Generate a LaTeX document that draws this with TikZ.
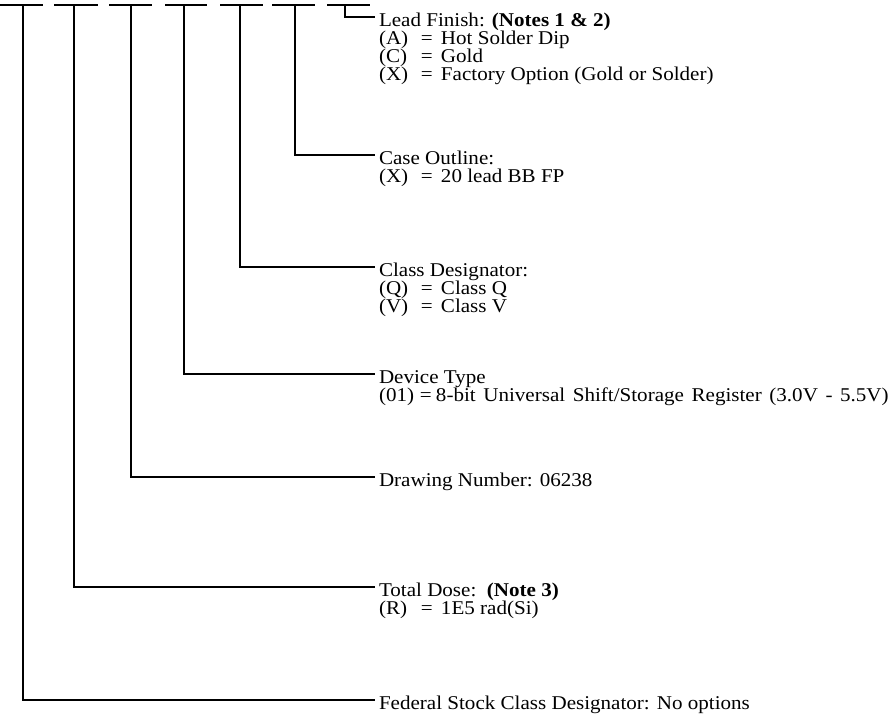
\documentclass[tikz,border=0pt]{standalone}
\usepackage{fontspec}
\setmainfont{Liberation Serif}[FakeStretch=1.08]
\newcommand\optrow[2]{\makebox[42pt][l]{#1}\makebox[20pt][l]{=}#2}
\newcommand\optrowb[2]{\makebox[41pt][l]{#1}\makebox[16pt][l]{=}#2}
\begin{document}
\begin{tikzpicture}[x=1pt,y=-1pt,
  bar/.style={line width=1.9pt},
  conn/.style={line width=1.9pt},
  txt/.style={anchor=base west, inner sep=0pt, outer sep=0pt,
    text height=13pt, text depth=4pt, font=\fontsize{19.5}{18}\selectfont},
  lbl/.style={txt},
  opt/.style={txt}]
\useasboundingbox (0,0) rectangle (896,713);
% template dashes
\foreach \a/\b in {0/43,54/98,109/152,165/207,220/263,272/315,327/370}
  \draw[bar] (\a,5) -- (\b,5);
\coordinate (t1) at (22.7,5);
\coordinate (t2) at (74,5);
\coordinate (t3) at (131,5);
\coordinate (t4) at (184,5);
\coordinate (t5) at (240,5);
\coordinate (t6) at (295,5);
\coordinate (t7) at (345,5);
% labels
\node[lbl] (lead) at (379,26) {Lead Finish: \textbf{(Notes 1 \& 2)}};
\node[opt] (leadA) at (379,44) {\optrow{(A)}{Hot Solder Dip}};
\node[opt] (leadC) at (379,62) {\optrow{(C)}{Gold}};
\node[opt] (leadX) at (379,80) {\optrow{(X)}{Factory Option (Gold or Solder)}};
\node[lbl] (case) at (379,164) {Case Outline:};
\node[opt] (caseX) at (379,182) {\optrow{(X)}{20 lead BB FP}};
\node[lbl] (class) at (379,276) {Class Designator:};
\node[opt] (classQ) at (379,294) {\optrow{(Q)}{Class Q}};
\node[opt] (classV) at (379,312) {\optrow{(V)}{Class V}};
\node[lbl] (dev) at (379,383) {Device Type};
\node[opt] (dev01) at (379,401) {\optrowb{(01)}{\spaceskip=7.6pt\relax 8-bit Universal Shift/Storage Register (3.0V - 5.5V)}};
\node[lbl] (draw) at (379,486) {Drawing Number: 06238};
\node[lbl] (dose) at (379,596) {Total Dose:\ \ \textbf{(Note 3)}};
\node[opt] (doseR) at (379,614) {\optrow{(R)}{1E5 rad(Si)}};
\node[lbl] (fed) at (379,709) {Federal Stock Class Designator: No options};
% connectors
\draw[conn] (t7) |- ([xshift=-4pt,yshift=9pt]lead.base west);
\draw[conn] (t6) |- ([xshift=-4pt,yshift=9pt]case.base west);
\draw[conn] (t5) |- ([xshift=-4pt,yshift=9pt]class.base west);
\draw[conn] (t4) |- ([xshift=-4pt,yshift=9pt]dev.base west);
\draw[conn] (t3) |- ([xshift=-4pt,yshift=9pt]draw.base west);
\draw[conn] (t2) |- ([xshift=-4pt,yshift=9pt]dose.base west);
\draw[conn] (t1) |- ([xshift=-4pt,yshift=9pt]fed.base west);
\end{tikzpicture}
\end{document}
